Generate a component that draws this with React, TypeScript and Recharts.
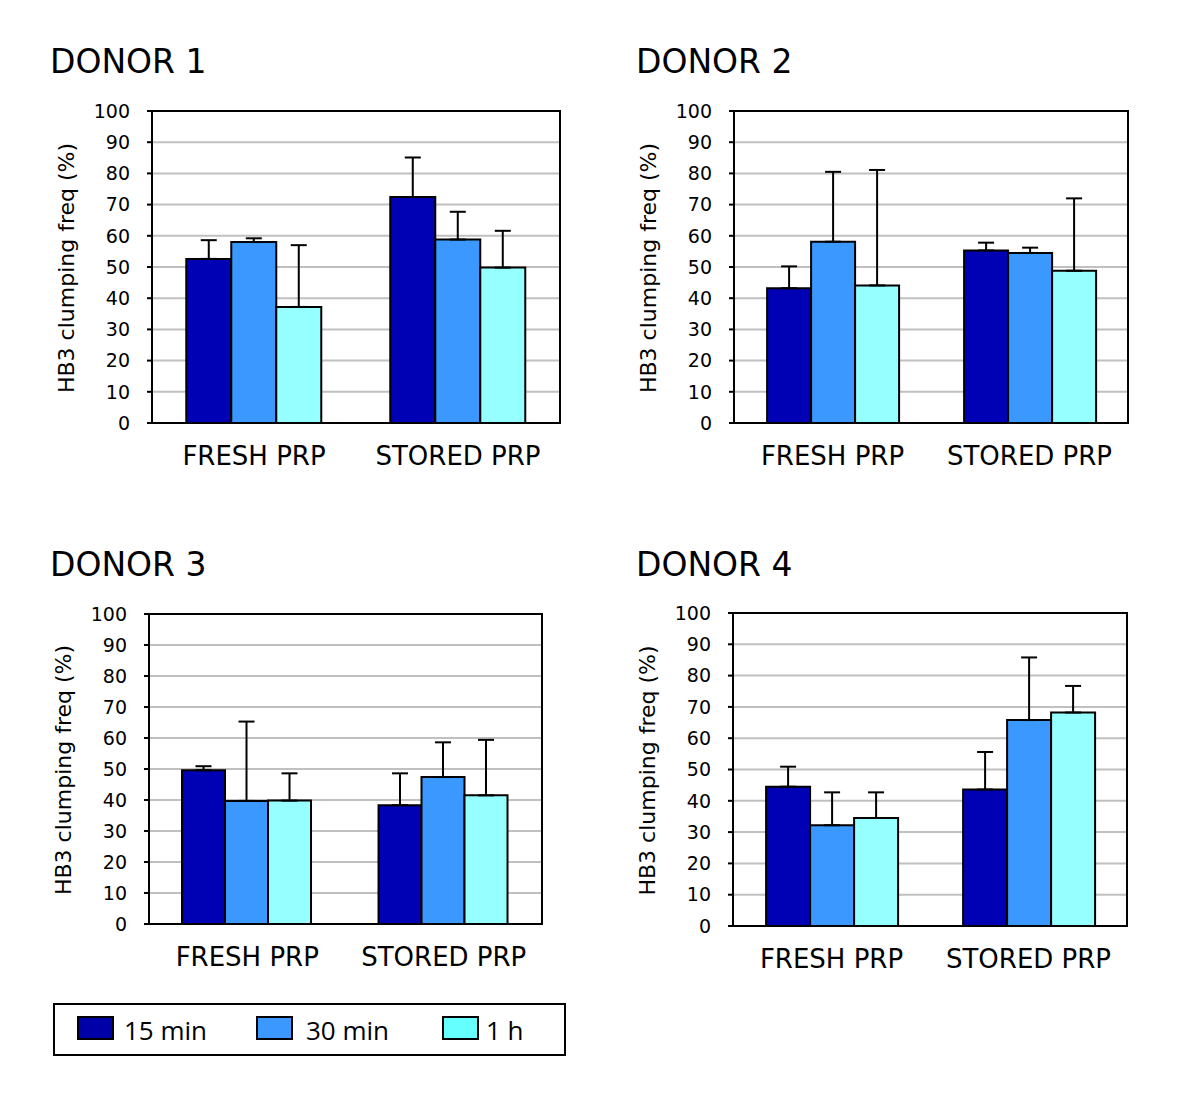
import React from 'react';
import { BarChart, Bar, XAxis, YAxis, CartesianGrid, ErrorBar, ReferenceArea } from 'recharts';

const categories = ['FRESH PRP', 'STORED PRP'];
const seriesNames = ['15 min', '30 min', '1 h'];
const yTicks = [0, 10, 20, 30, 40, 50, 60, 70, 80, 90, 100];

// Donor 1
const d1_15 = [52.6, 72.4];
const d1_30 = [58.0, 58.8];
const d1_1h = [37.2, 49.8];
const d1_15err = [6.0, 12.7];
const d1_30err = [1.2, 8.9];
const d1_1herr = [19.8, 11.8];
// Donor 2
const d2_15 = [43.2, 55.3];
const d2_30 = [58.1, 54.5];
const d2_1h = [44.1, 48.8];
const d2_15err = [7.0, 2.5];
const d2_30err = [22.4, 1.7];
const d2_1herr = [37.0, 23.2];
// Donor 3
const d3_15 = [49.6, 38.3];
const d3_30 = [39.7, 47.4];
const d3_1h = [39.8, 41.5];
const d3_15err = [1.3, 10.3];
const d3_30err = [25.6, 11.2];
const d3_1herr = [8.8, 17.9];
// Donor 4
const d4_15 = [44.5, 43.6];
const d4_30 = [32.2, 65.8];
const d4_1h = [34.5, 68.2];
const d4_15err = [6.4, 12.0];
const d4_30err = [10.5, 20.0];
const d4_1herr = [8.2, 8.5];

const colors = ['#0000B4', '#3A98FF', '#96FFFF'];
const legendColors = ['#0000A8', '#3A98FF', '#66FFFF'];
const FONT = 'DejaVu Sans';

function buildData(v15: number[], v30: number[], v1h: number[], e15: number[], e30: number[], e1h: number[]) {
  return categories.map((c, i) => ({
    cat: c,
    s0: v15[i],
    s1: v30[i],
    s2: v1h[i],
    e0: [0, e15[i]],
    e1: [0, e30[i]],
    e2: [0, e1h[i]],
  }));
}

const panels = [
  { title: 'DONOR 1', data: buildData(d1_15, d1_30, d1_1h, d1_15err, d1_30err, d1_1herr), L: 152, R: 560, T: 111, B: 423, titleX: 50, titleY: 73 },
  { title: 'DONOR 2', data: buildData(d2_15, d2_30, d2_1h, d2_15err, d2_30err, d2_1herr), L: 734, R: 1128, T: 111, B: 423, titleX: 636, titleY: 73 },
  { title: 'DONOR 3', data: buildData(d3_15, d3_30, d3_1h, d3_15err, d3_30err, d3_1herr), L: 149, R: 542, T: 614, B: 924, titleX: 50, titleY: 576 },
  { title: 'DONOR 4', data: buildData(d4_15, d4_30, d4_1h, d4_15err, d4_30err, d4_1herr), L: 733, R: 1127, T: 613, B: 926, titleX: 636, titleY: 576 },
];

function Panel({ p }: { p: any }) {
  const width = p.R - p.L + 120;
  const height = p.B - p.T + 80;
  return (
    <div style={{ position: 'absolute', left: p.L - 100, top: p.T - 20, width, height }}>
      <BarChart
        width={width}
        height={height}
        data={p.data}
        margin={{ top: 20, right: 20, left: 40, bottom: 10 }}
        barCategoryGap="16.8%"
        barGap={0}
      >
        <CartesianGrid vertical={false} stroke="#C0C0C0" strokeWidth={2} />
        <XAxis
          dataKey="cat"
          height={50}
          interval={0}
          tickLine={false}
          tickSize={0}
          tickMargin={24}
          axisLine={{ stroke: '#000', strokeWidth: 2 }}
          tick={{ fontSize: 26, fill: '#000', fontFamily: FONT }}
        />
        <YAxis
          width={60}
          domain={[0, 100]}
          ticks={yTicks}
          interval={0}
          tickSize={5}
          tickMargin={17}
          axisLine={{ stroke: '#000', strokeWidth: 2 }}
          tickLine={{ stroke: '#000', strokeWidth: 2 }}
          tick={{ fontSize: 19, fill: '#000', fontFamily: FONT }}
        />
        <ReferenceArea y1={0} y2={100} fill="none" fillOpacity={0} stroke="#000" strokeWidth={2} />
        {seriesNames.map((name, i) => (
          <Bar
            key={name}
            dataKey={'s' + i}
            name={name}
            fill={colors[i]}
            stroke="#000"
            strokeWidth={2}
            isAnimationActive={false}
          >
            <ErrorBar dataKey={'e' + i} direction="y" width={8} stroke="#000" strokeWidth={2} />
          </Bar>
        ))}
      </BarChart>
    </div>
  );
}

export default function App() {
  const swatchX = [78, 257, 443];
  const textX = [124, 306, 486];
  return (
    <div style={{ position: 'absolute', left: 0, top: 0, width: 1200, height: 1111, background: '#fff' }}>
      {panels.map((p) => (
        <Panel key={p.title} p={p} />
      ))}
      <svg width={1200} height={1111} style={{ position: 'absolute', left: 0, top: 0, pointerEvents: 'none' }}>
        {panels.map((p) => (
          <g key={p.title}>
            <text x={p.titleX} y={p.titleY} fontFamily={FONT} fontSize={33} fill="#000">
              {p.title}
            </text>
            <text
              x={p.L - 78}
              y={(p.T + p.B) / 2 + 1}
              transform={`rotate(-90 ${p.L - 78} ${(p.T + p.B) / 2 + 1})`}
              textAnchor="middle"
              fontFamily={FONT}
              fontSize={22}
              fill="#000"
            >
              HB3 clumping freq (%)
            </text>
          </g>
        ))}
        <rect x={54} y={1004} width={511} height={51} fill="#fff" stroke="#000" strokeWidth={2} />
        {seriesNames.map((name, i) => (
          <g key={name}>
            <rect x={swatchX[i]} y={1017} width={35} height={22} fill={legendColors[i]} stroke="#000" strokeWidth={2} />
            <text x={textX[i]} y={1039.5} fontFamily="Open Sans" fontSize={26} fill="#000">
              {name}
            </text>
          </g>
        ))}
      </svg>
    </div>
  );
}
